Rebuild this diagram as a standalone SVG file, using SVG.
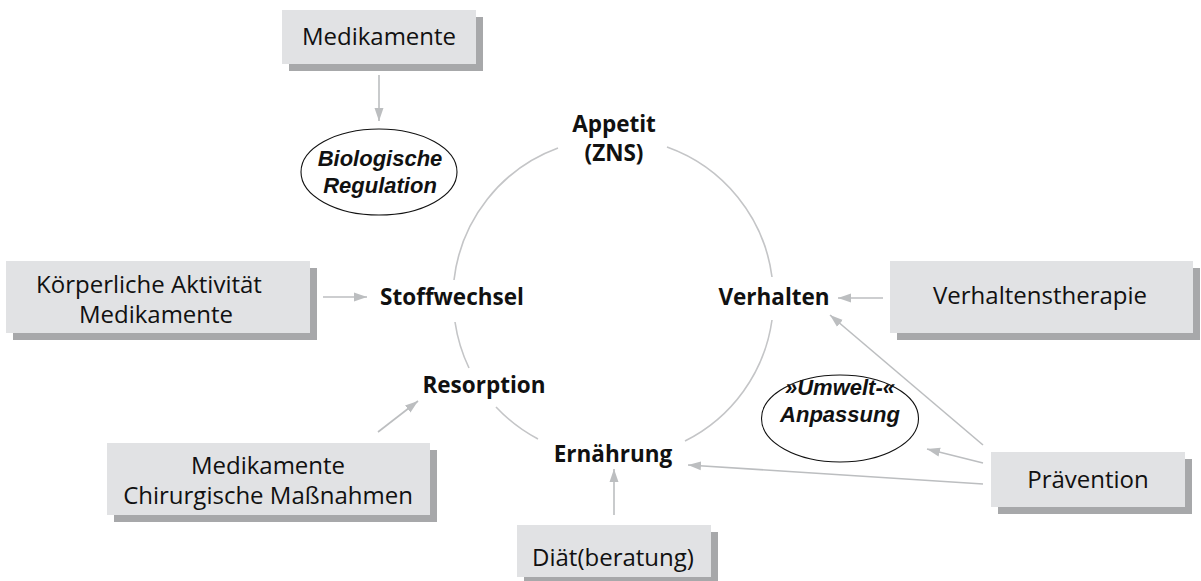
<svg xmlns="http://www.w3.org/2000/svg" width="1201" height="581" viewBox="0 0 1201 581">
  <style>
    .box { fill: #e1e2e4; }
    .shadow { fill: #a7a8aa; }
    .boxtxt { font-family: "Open Sans", "Noto Sans", sans-serif; font-size: 24px; fill: #111; text-anchor: middle; }
    .hub { font-family: "Open Sans", "Noto Sans", sans-serif; font-size: 22.5px; font-weight: bold; fill: #111; text-anchor: middle; }
    .oval { fill: #fff; stroke: #111; stroke-width: 1.1; }
    .ovaltxt { font-family: "Liberation Sans", Arial, sans-serif; font-size: 22px; font-weight: bold; font-style: italic; fill: #111; text-anchor: middle; }
    .ring { fill: none; stroke: #c4c5c7; stroke-width: 1.6; }
    .arrow { fill: none; stroke: #bcbec0; stroke-width: 1.6; marker-end: url(#ah); }
  </style>
  <defs>
    <marker id="ah" markerUnits="userSpaceOnUse" markerWidth="14" markerHeight="10" refX="13" refY="5" orient="auto">
      <path d="M0,0.5 L13,5 L0,9.5 z" fill="#bcbec0"/>
    </marker>
  </defs>

  <rect width="1201" height="581" fill="#fff"/>

  <!-- regulation cycle (circle broken at the labels) -->
  <g id="cycle">
    <path class="ring" d="M454,280 A160,160 0 0 1 558,148"/>
    <path class="ring" d="M667,147 A160,160 0 0 1 772,277"/>
    <path class="ring" d="M772,320 A160,160 0 0 1 685,441"/>
    <path class="ring" d="M538,439 A160,160 0 0 1 496,407"/>
    <path class="ring" d="M469,368 A160,160 0 0 1 455,322"/>
  </g>

  <!-- connectors -->
  <g id="connectors">
    <path class="arrow" d="M379,75 L379,121"/>
    <path class="arrow" d="M323,297 L367,297"/>
    <path class="arrow" d="M883,298 L838,298"/>
    <path class="arrow" d="M983,445 L830,315"/>
    <path class="arrow" d="M983,463 L927,449"/>
    <path class="arrow" d="M983,484 L688,465"/>
    <path class="arrow" d="M378,432 L418,401"/>
    <path class="arrow" d="M614,515 L614,469"/>
  </g>

  <!-- cycle labels -->
  <g id="appetit">
    <text class="hub" x="614" y="132"><tspan x="614">Appetit</tspan><tspan x="614" dy="29">(ZNS)</tspan></text>
  </g>
  <g id="stoffwechsel"><text class="hub" x="452" y="305">Stoffwechsel</text></g>
  <g id="verhalten"><text class="hub" x="774" y="305">Verhalten</text></g>
  <g id="resorption"><text class="hub" x="484" y="393">Resorption</text></g>
  <g id="ernaehrung"><text class="hub" x="613" y="462">Ernährung</text></g>

  <!-- ovals -->
  <g id="biologische-regulation">
    <ellipse class="oval" cx="379" cy="172" rx="78" ry="43"/>
    <text class="ovaltxt" x="380" y="166"><tspan x="380">Biologische</tspan><tspan x="380" dy="26.5">Regulation</tspan></text>
  </g>
  <g id="umwelt-anpassung">
    <ellipse class="oval" cx="840" cy="418.5" rx="78.5" ry="43.5"/>
    <text class="ovaltxt" x="840" y="395"><tspan x="840">»Umwelt-«</tspan><tspan x="840" dy="26.5">Anpassung</tspan></text>
  </g>

  <!-- boxes with drop shadow -->
  <g id="medikamente-top">
    <rect class="shadow" x="289" y="17" width="194" height="54"/>
    <rect class="box" x="282" y="10" width="194" height="54"/>
    <text class="boxtxt" x="379" y="45">Medikamente</text>
  </g>
  <g id="koerperliche-aktivitaet">
    <rect class="shadow" x="13" y="268" width="304" height="72"/>
    <rect class="box" x="6" y="261" width="304" height="72"/>
    <text class="boxtxt" y="293"><tspan x="149">Körperliche Aktivität</tspan><tspan x="156" dy="30">Medikamente</tspan></text>
  </g>
  <g id="verhaltenstherapie">
    <rect class="shadow" x="897" y="268" width="303" height="72"/>
    <rect class="box" x="890" y="261" width="303" height="72"/>
    <text class="boxtxt" x="1040" y="304">Verhaltenstherapie</text>
  </g>
  <g id="praevention">
    <rect class="shadow" x="998" y="459" width="194" height="55"/>
    <rect class="box" x="991" y="452" width="194" height="55"/>
    <text class="boxtxt" x="1088" y="488">Prävention</text>
  </g>
  <g id="medikamente-chirurgie">
    <rect class="shadow" x="114" y="450" width="323" height="72"/>
    <rect class="box" x="107" y="443" width="323" height="72"/>
    <text class="boxtxt" y="474"><tspan x="268">Medikamente</tspan><tspan x="268" dy="30">Chirurgische Maßnahmen</tspan></text>
  </g>
  <g id="diaetberatung">
    <rect class="shadow" x="524" y="532" width="194" height="50"/>
    <rect class="box" x="517" y="525" width="194" height="52"/>
    <text class="boxtxt" x="613" y="566">Diät(beratung)</text>
  </g>
</svg>
